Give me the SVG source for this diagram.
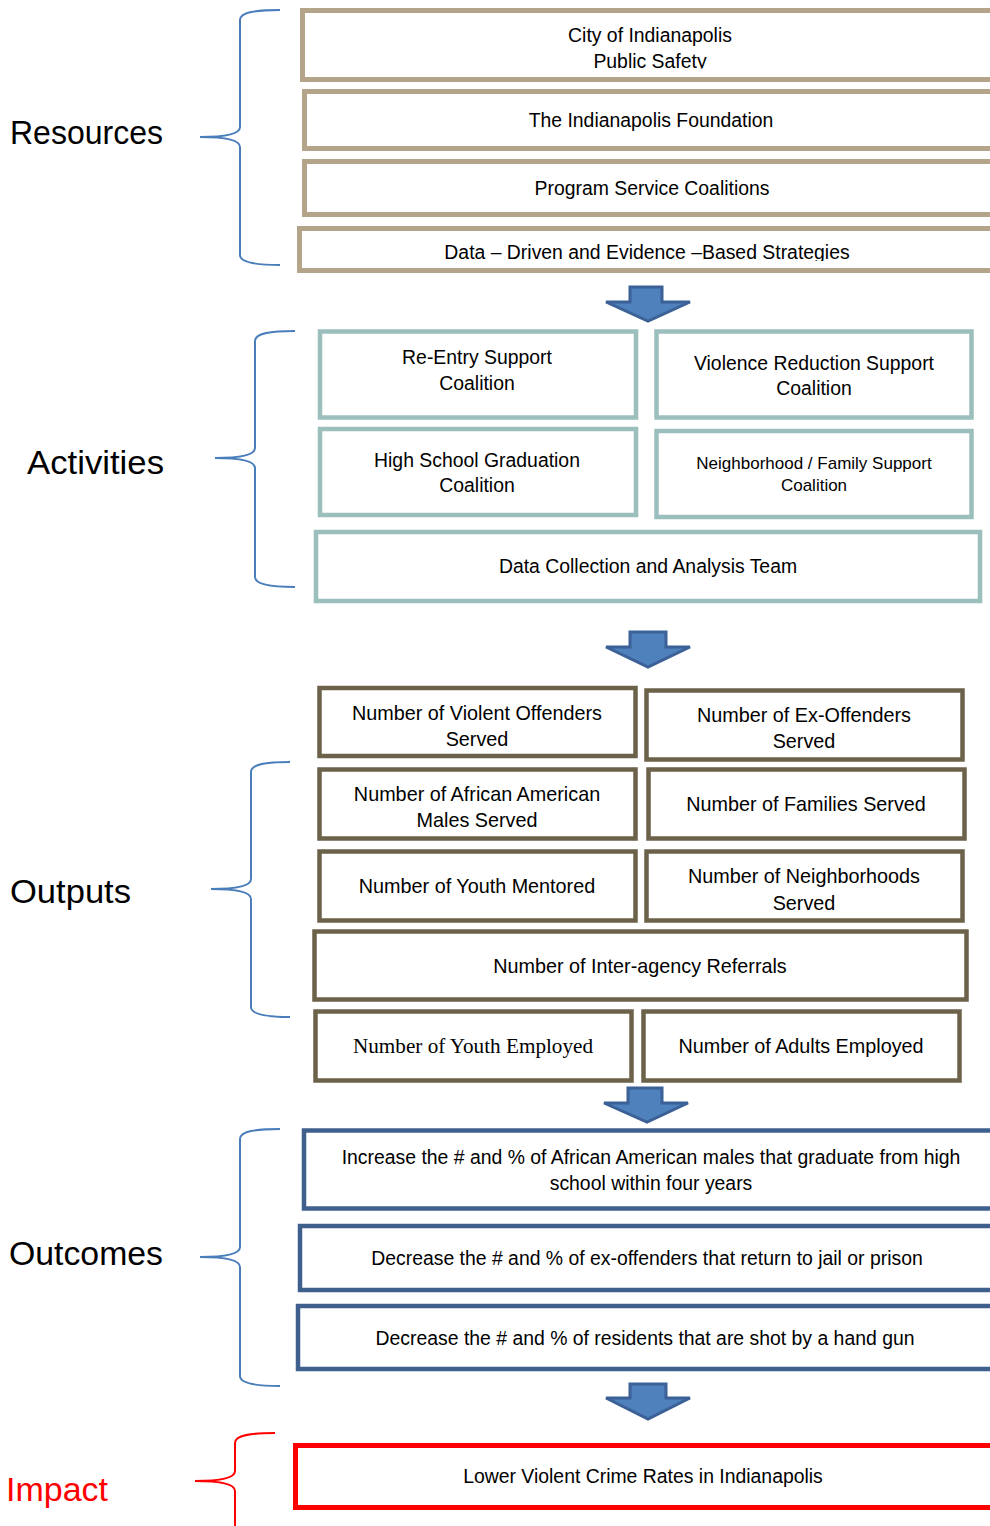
<svg xmlns="http://www.w3.org/2000/svg" width="990" height="1526" viewBox="0 0 990 1526">
<style>
text{font-family:"Liberation Sans",Arial,sans-serif;font-size:19.4px;fill:#000;text-anchor:middle}
.lbl{font-size:33px;text-anchor:start}
.o{font-size:19.8px}
.res{fill:#fff;stroke:#B3A48A;stroke-width:5}
.act{fill:#fff;stroke:#9BBFBC;stroke-width:4.5}
.out{fill:#fff;stroke:#6B6249;stroke-width:4.5}
.oc{fill:#fff;stroke:#3F5F8D;stroke-width:4.5}
.imp{fill:#fff;stroke:#FF0000;stroke-width:5}
.brace{fill:none;stroke:#4A7EBB;stroke-width:2}
.arrow{fill:#4F81BD;stroke:#3B6196;stroke-width:3;stroke-linejoin:miter}
</style>
<defs>
<clipPath id="c1"><rect x="300" y="0" width="700" height="68.5"/></clipPath>
<clipPath id="c4"><rect x="296" y="226" width="700" height="35"/></clipPath>
</defs>
<rect width="990" height="1526" fill="#fff"/>

<g id="labels">
<text class="lbl" x="10" y="144" textLength="153" lengthAdjust="spacingAndGlyphs">Resources</text>
<text class="lbl" x="27" y="474" textLength="137" lengthAdjust="spacingAndGlyphs">Activities</text>
<text class="lbl" x="10" y="903" textLength="121" lengthAdjust="spacingAndGlyphs">Outputs</text>
<text class="lbl" x="9" y="1265" textLength="154" lengthAdjust="spacingAndGlyphs">Outcomes</text>
<text class="lbl" x="6" y="1501" textLength="102" lengthAdjust="spacingAndGlyphs" style="fill:#FF0000">Impact</text>
</g>

<g id="braces">
<path class="brace" d="M280,10 C256,10 240,12 240,20 L240,127 C240,134 226,137 200,137 C226,137 240,140 240,147 L240,255 C240,262 256,265 280,265"/>
<path class="brace" d="M295,331 C271,331 255,333 255,341 L255,448 C255,455 241,458 215,458 C241,458 255,461 255,468 L255,577 C255,584 271,587 295,587"/>
<path class="brace" d="M290,762 C266,762 251,764 251,772 L251,879 C251,886 237,889 211,889 C237,889 251,892 251,899 L251,1007 C251,1014 266,1017 290,1017"/>
<path class="brace" d="M280,1129 C256,1129 240,1131 240,1139 L240,1247 C240,1254 226,1257 200,1257 C226,1257 240,1260 240,1267 L240,1376 C240,1383 256,1386 280,1386"/>
<path class="brace" style="stroke:#FF0000" d="M275,1433 C251,1433 235,1435 235,1443 L235,1471 C235,1478 221,1481 195,1481 C221,1481 235,1484 235,1491 L235,1526"/>
</g>

<g id="connectors">
<path class="arrow" d="M630,287 L662,287 L662,302 L690,302 L648,321 L606,302 L630,302 Z"/>
<path class="arrow" d="M630,632 L666,632 L666,647 L690,647 L648,667 L606,647 L630,647 Z"/>
<path class="arrow" d="M628,1088 L662,1088 L662,1103 L688,1103 L647,1122 L604,1103 L628,1103 Z"/>
<path class="arrow" d="M630,1384 L666,1384 L666,1398 L690,1398 L648,1419 L606,1398 L630,1398 Z"/>
</g>

<g id="res1"><rect class="res" x="302.5" y="10.5" width="700" height="69"/>
<g clip-path="url(#c1)"><text x="650" y="42">City of Indianapolis</text><text x="650" y="67.5">Public Safety</text></g></g>
<g id="res2"><rect class="res" x="304.5" y="91.5" width="700" height="57"/><text x="651" y="127">The Indianapolis Foundation</text></g>
<g id="res3"><rect class="res" x="304.5" y="161.5" width="700" height="53"/><text x="652" y="195">Program Service Coalitions</text></g>
<g id="res4"><rect class="res" x="299.5" y="228.5" width="700" height="42"/>
<g clip-path="url(#c4)"><text x="647" y="259">Data – Driven and Evidence –Based Strategies</text></g></g>

<g id="act1"><rect class="act" x="320" y="331.5" width="316" height="86"/><text x="477" y="364">Re-Entry Support</text><text x="477" y="390">Coalition</text></g>
<g id="act2"><rect class="act" x="656.5" y="331.5" width="315" height="86"/><text x="814" y="370">Violence Reduction Support</text><text x="814" y="395">Coalition</text></g>
<g id="act3"><rect class="act" x="320" y="429" width="316" height="86"/><text x="477" y="467">High School Graduation</text><text x="477" y="492">Coalition</text></g>
<g id="act4"><rect class="act" x="656.5" y="431" width="315" height="86"/><text x="814" y="469" style="font-size:17px">Neighborhood / Family Support</text><text x="814" y="491" style="font-size:17px">Coalition</text></g>
<g id="act5"><rect class="act" x="316" y="532" width="664" height="69"/><text x="648" y="573">Data Collection and Analysis Team</text></g>

<g id="out1"><rect class="out" x="319.5" y="688" width="316" height="68"/><text class="o" x="477" y="720">Number of Violent Offenders</text><text class="o" x="477" y="746">Served</text></g>
<g id="out2"><rect class="out" x="646.5" y="690.5" width="316" height="69"/><text class="o" x="804" y="722">Number of Ex-Offenders</text><text class="o" x="804" y="748">Served</text></g>
<g id="out3"><rect class="out" x="319.5" y="769.5" width="316" height="69"/><text class="o" x="477" y="801">Number of African American</text><text class="o" x="477" y="827">Males Served</text></g>
<g id="out4"><rect class="out" x="648.5" y="769.5" width="316" height="69"/><text class="o" x="806" y="811">Number of Families Served</text></g>
<g id="out5"><rect class="out" x="319.5" y="851.5" width="316" height="69"/><text class="o" x="477" y="893">Number of Youth Mentored</text></g>
<g id="out6"><rect class="out" x="646.5" y="851.5" width="316" height="69"/><text class="o" x="804" y="883">Number of Neighborhoods</text><text class="o" x="804" y="910">Served</text></g>
<g id="out7"><rect class="out" x="314.5" y="931.5" width="652" height="68"/><text class="o" x="640" y="973">Number of Inter-agency Referrals</text></g>
<g id="out8"><rect class="out" x="315.5" y="1011.5" width="316" height="69"/><text x="473" y="1053" style="font-family:'Liberation Serif','Times New Roman',serif;font-size:21.2px">Number of Youth Employed</text></g>
<g id="out9"><rect class="out" x="643.5" y="1011.5" width="316" height="69"/><text class="o" x="801" y="1053">Number of Adults Employed</text></g>

<g id="oc1"><rect class="oc" x="304" y="1130.5" width="700" height="78"/><text x="651" y="1164">Increase the # and % of African American males that graduate from high</text><text x="651" y="1190">school within four years</text></g>
<g id="oc2"><rect class="oc" x="300" y="1226" width="700" height="64"/><text x="647" y="1265">Decrease the # and % of ex-offenders that return to jail or prison</text></g>
<g id="oc3"><rect class="oc" x="298" y="1306" width="700" height="63"/><text x="645" y="1345">Decrease the # and % of residents that are shot by a hand gun</text></g>

<g id="impact"><rect class="imp" x="295.5" y="1445.5" width="700" height="62"/><text x="643" y="1483">Lower Violent Crime Rates in Indianapolis</text></g>
</svg>
